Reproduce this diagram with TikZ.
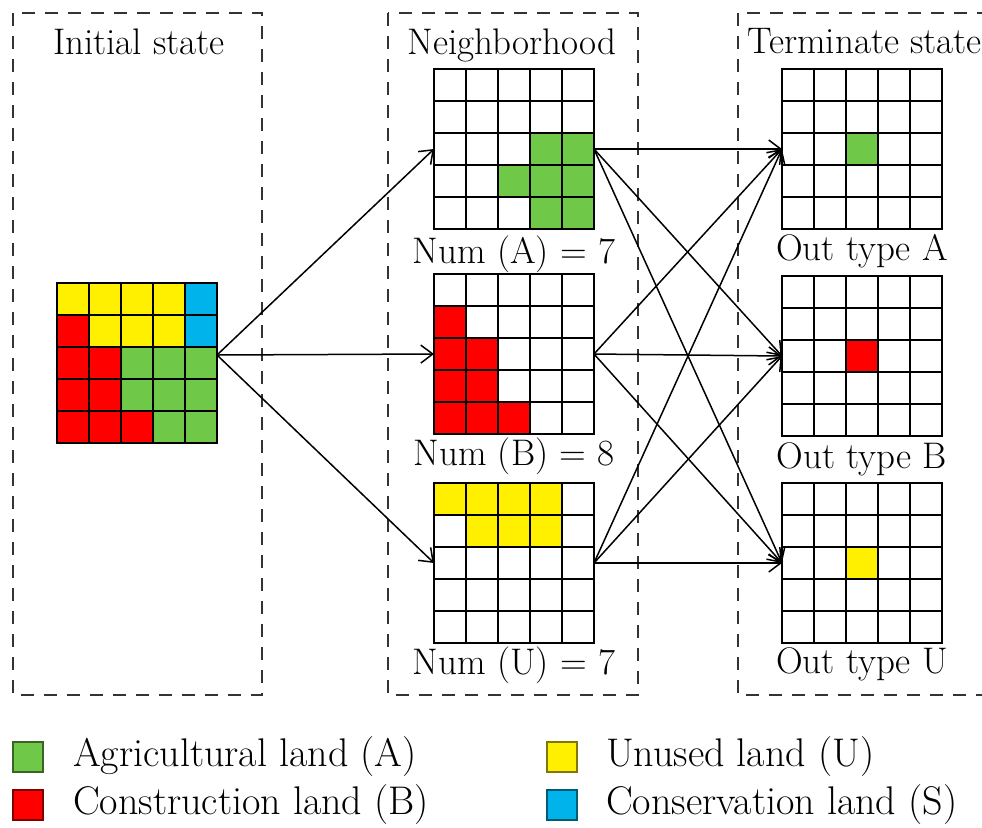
\documentclass[tikz,border=0pt]{standalone}
\usepackage{tikz}
\usetikzlibrary{arrows.meta,positioning}

\definecolor{agri}{RGB}{112,200,72}
\definecolor{constr}{RGB}{255,0,0}
\definecolor{unused}{RGB}{255,240,0}
\definecolor{conserv}{RGB}{0,180,235}

\tikzset{
  gridbox/.style={minimum size=80pt, inner sep=0pt, outer sep=0pt},
  gridline/.style={black, line width=1pt, line cap=rect},
  stateframe/.style={dash pattern=on 6.5pt off 5pt, line width=0.8pt, black!80},
  arr/.style={-{Straight Barb[length=6pt,width=9pt]}, line width=0.75pt},
  keybox/.style={minimum width=15pt, minimum height=15pt, inner sep=0pt, line width=0.8pt},
  keytext/.style={inner sep=0pt, anchor=west, font=\fontsize{20}{24}\selectfont},
}

\newcommand{\landcells}[4]{%
  \foreach \c/\r in {#4}
    \fill[#3] (#1+32*\c-32,#2+32*\r-32) rectangle ++(32,32);
}
\newcommand{\landgrid}[3]{%
  \node[gridbox] (#1) at (#2+80,#3+80) {};
  \foreach \k in {0,32,...,160} {
    \draw[gridline] (#2+\k,#3) -- (#2+\k,#3+160);
    \draw[gridline] (#2,#3+\k) -- (#2+160,#3+\k);
  }
}

\begin{document}
\begin{tikzpicture}[x=0.5pt, y=-0.5pt, font=\fontsize{18.5}{22}\selectfont]
\useasboundingbox (0,0) rectangle (982,827);
\clip (0,0) rectangle (982,827);

\draw[stateframe] (13,13) rectangle (262,695);
\draw[stateframe] (388,13) rectangle (638,695);
\draw[stateframe] (738,13) rectangle (1010,695);

\node[anchor=base] (initT) at (139,54) {Initial state};
\node[anchor=base] (neighT) at (512,54) {Neighborhood};
\node[anchor=base west, inner sep=0pt] (termT) at (747,53) {Terminate state};

\landcells{57}{283}{unused}{1/1,2/1,3/1,4/1,2/2,3/2,4/2}
\landcells{57}{283}{conserv}{5/1,5/2}
\landcells{57}{283}{constr}{1/2,1/3,2/3,1/4,2/4,1/5,2/5,3/5}
\landcells{57}{283}{agri}{3/3,4/3,5/3,3/4,4/4,5/4,4/5,5/5}
\landgrid{init}{57}{283}

\landcells{434}{69}{agri}{4/3,5/3,3/4,4/4,5/4,4/5,5/5}
\landgrid{nA}{434}{69}
\landcells{434}{274}{constr}{1/2,1/3,2/3,1/4,2/4,1/5,2/5,3/5}
\landgrid{nB}{434}{274}
\landcells{434}{483}{unused}{1/1,2/1,3/1,4/1,2/2,3/2,4/2}
\landgrid{nU}{434}{483}

\landcells{782}{69}{agri}{3/3}
\landgrid{tA}{782}{69}
\landcells{782}{276}{constr}{3/3}
\landgrid{tB}{782}{276}
\landcells{782}{483}{unused}{3/3}
\landgrid{tU}{782}{483}

\node[anchor=base] (numA) at (514,263) {Num (A) = 7};
\node[anchor=base] (numB) at (514,465) {Num (B) = 8};
\node[anchor=base] (numU) at (514,674) {Num (U) = 7};
\node[anchor=base] (outA) at (862,260) {Out type A};
\node[anchor=base] (outB) at (862,468) {Out type B};
\node[anchor=base] (outU) at (862,673) {Out type U};

\draw[arr] ([yshift=4pt]init.east) -- (nA.west);
\draw[arr] ([yshift=4pt]init.east) -- (nB.west);
\draw[arr] ([yshift=4pt]init.east) -- (nU.west);
\foreach \s in {nA,nB,nU}
  \foreach \t in {tA,tB,tU}
    \draw[arr] (\s.east) -- (\t.west);

\node[keybox, fill=agri, draw=agri!50!black] (keyA) at (28,757) {};
\node[keytext, right=14.5pt of keyA] (txtA) {Agricultural land (A)};
\node[keybox, fill=constr, draw=constr!50!black] (keyB) at (28,805) {};
\node[keytext, right=14.5pt of keyB] (txtB) {Construction land (B)};
\node[keybox, fill=unused, draw=unused!50!black] (keyU) at (562,757) {};
\node[keytext, right=14pt of keyU] (txtU) {Unused land (U)};
\node[keybox, fill=conserv, draw=conserv!50!black] (keyS) at (562,805) {};
\node[keytext, right=14pt of keyS] (txtS) {Conservation land (S)};
\end{tikzpicture}
\end{document}
